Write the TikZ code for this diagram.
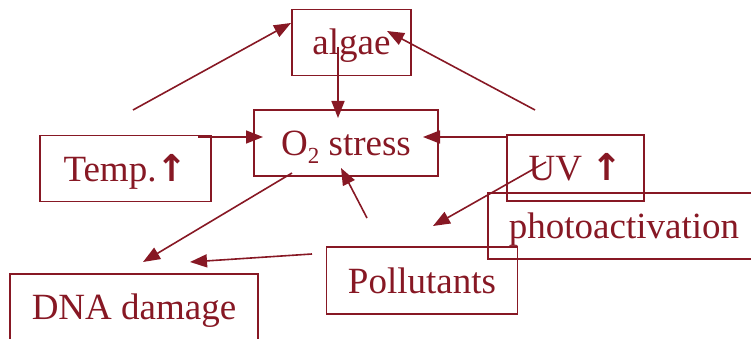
\documentclass[tikz,border=0pt]{standalone}
\usepackage{fontspec}
\setmainfont{Liberation Serif}
\newfontfamily\arrfont{DejaVu Sans}
\usetikzlibrary{arrows.meta}
\definecolor{dr}{RGB}{135,24,36}
\begin{document}
\begin{tikzpicture}[x=1pt,y=-1pt,
  box/.style={draw=dr, line width=1.6pt, rectangle, minimum height=66pt,
    inner sep=0pt, text=dr, font=\fontsize{37}{44}\selectfont,
    text height=32pt, text depth=7pt, anchor=center},
  arr/.style={draw=dr, line width=1.6pt, -{Triangle[length=17pt,width=13pt]}}]
\useasboundingbox (0,0) rectangle (751,339);
\node[box, minimum width=119pt] (algae) at (351.5,42.5) {algae};
\node[box, minimum width=184pt] (o2) at (346,143) {O\raisebox{-8pt}{\fontsize{23}{23}\selectfont 2} stress};
\node[box, minimum width=171pt] (temp) at (125.5,168.5) {Temp.{\arrfont\bfseries ↑}};
\node[box, minimum width=137pt] (uv) at (575.5,168) {UV {\arrfont\bfseries ↑}};
\node[box, minimum width=272pt] (photo) at (624,226) {photoactivation};
\node[box, minimum width=191pt, minimum height=67pt] (poll) at (422,280.5) {Pollutants};
\node[box, minimum width=248pt] (dna) at (134,307) {DNA damage};
% free ends and tips
\coordinate (s1) at (133,110);  \coordinate (t1) at (291,23);
\coordinate (s2) at (338,47);   \coordinate (t2) at (338,118);
\coordinate (s3) at (198,137);  \coordinate (t3) at (263,137);
\coordinate (s4) at (535,110);  \coordinate (t4) at (387,31);
\coordinate (s5) at (507,137);  \coordinate (t5) at (423,137);
\coordinate (s6) at (292,173);  \coordinate (t6) at (143,262);
\coordinate (s7) at (367,218);  \coordinate (t7) at (341,168);
\coordinate (s8) at (312,254);  \coordinate (t8) at (190,262);
\coordinate (s9) at (546,162);  \coordinate (t9) at (433,226);
\draw[arr] (s1) -- (t1);
\draw[arr] (s2) -- (t2);
\draw[arr] (s3) -- (t3);
\draw[arr] (s4) -- (t4);
\draw[arr] (s5) -- (t5);
\draw[arr] (s6) -- (t6);
\draw[arr] (s7) -- (t7);
\draw[arr] (s8) -- (t8);
\draw[arr] (s9) -- (t9);
\end{tikzpicture}
\end{document}
